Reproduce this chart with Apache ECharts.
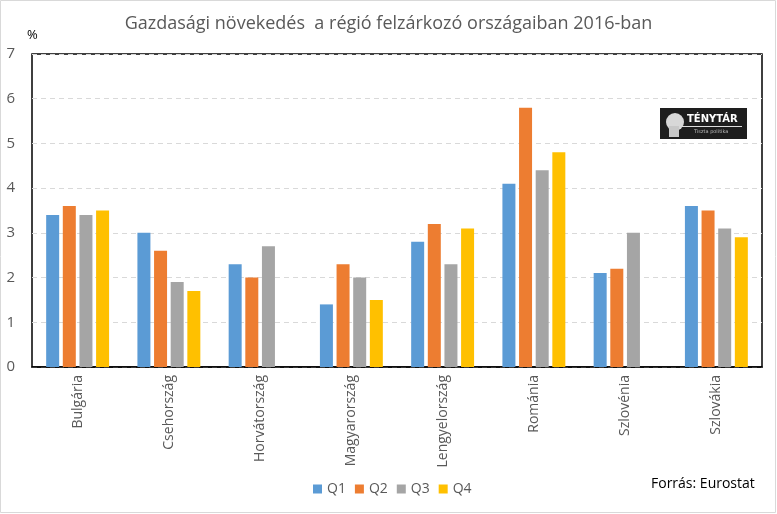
<!DOCTYPE html>
<html><head><meta charset="utf-8">
<script src="https://cdn.jsdelivr.net/npm/echarts@6/dist/echarts.min.js"></script>
<style>html,body{margin:0;padding:0;background:#fff}#c{width:777px;height:514px}</style>
</head><body><div id="c"></div>
<script>
var categories = ['Bulgária','Csehország','Horvátország','Magyarország','Lengyelország','Románia','Szlovénia','Szlovákia'];
var q1 = [3.4, 3.0, 2.3, 1.4, 2.8, 4.1, 2.1, 3.6];
var q2 = [3.6, 2.6, 2.0, 2.3, 3.2, 5.8, 2.2, 3.5];
var q3 = [3.4, 1.9, 2.7, 2.0, 2.3, 4.4, 3.0, 3.1];
var q4 = [3.5, 1.7, null, 1.5, 3.1, 4.8, null, 2.9];
var seriesNames = ['Q1','Q2','Q3','Q4'];
var colors = ['#5b9bd5','#ed7d31','#a5a5a5','#ffc000'];
var yTicks = [0,1,2,3,4,5,6,7];

var font = 'Open Sans';
var chart = echarts.init(document.getElementById('c'), null, {renderer:'canvas'});
var data = [q1,q2,q3,q4];
chart.setOption({
  animation:false,
  color: colors,
  title: {text:'Gazdasági növekedés  a régió felzárkozó országaiban 2016-ban', left:'center', top:10,
    textStyle:{fontFamily:font, fontSize:18, fontWeight:'normal', color:'#595959'}},
  legend: {data: seriesNames, bottom:13, left:308, itemWidth:9, itemHeight:9, itemGap:9, icon:'rect',
    textStyle:{fontFamily:font, fontSize:14, color:'#595959'}},
  grid: {left:32, right:15, top:54, bottom:147, show:true, borderColor:'#000', borderWidth:1.5, containLabel:false},
  xAxis: {type:'category', data:categories,
    axisLine:{show:true, lineStyle:{color:'#000', width:1.5}}, axisTick:{show:false},
    axisLabel:{rotate:90, margin:8, fontFamily:font, fontSize:14, color:'#595959'}},
  yAxis: {type:'value', min:0, max:7, interval:1, name:'%', nameLocation:'end', nameGap:12,
    nameTextStyle:{fontFamily:font, fontSize:13, color:'#000', align:'left', padding:[0,0,0,-5]},
    axisLine:{show:false}, axisTick:{show:false},
    axisLabel:{margin:17, fontFamily:font, fontSize:15, color:'#595959', formatter:function(v){return yTicks.indexOf(v)>=0?String(v):'';}},
    splitLine:{show:true, lineStyle:{color:'#d9d9d9', type:[5,4], width:1}}},
  series: seriesNames.map(function(n,i){return {name:n, type:'bar', data:data[i], barWidth:13, barGap:'28%'};}),
  graphic: [
    {type:'rect', shape:{x:0.5,y:0.5,width:775,height:512}, style:{fill:'none', stroke:'#d9d9d9', lineWidth:1}, silent:true},
    {type:'text', left:651, top:477, style:{text:'Forrás: Eurostat', font:'14px "Open Sans"', fill:'#000'}},
    {type:'group', left:660, top:108, children:[
      {type:'rect', shape:{x:0,y:0,width:87,height:31}, style:{fill:'#1e1e1e'}},
      {type:'circle', shape:{cx:15,cy:14,r:9}, style:{fill:'#d8d8d8'}},
      {type:'rect', shape:{x:9,y:18,width:10,height:11}, style:{fill:'#c8c8c8'}},
      {type:'rect', shape:{x:22,y:18,width:60,height:1}, style:{fill:'#ddd'}},
      {type:'text', x:27, y:6, style:{text:'TÉNYTÁR', font:'bold 10px "DejaVu Sans"', fill:'#fff'}},
      {type:'text', x:34, y:21, style:{text:'Tiszta politika', font:'5px "DejaVu Sans"', fill:'#bbb'}}
    ]}
  ]
});
</script></body></html>
